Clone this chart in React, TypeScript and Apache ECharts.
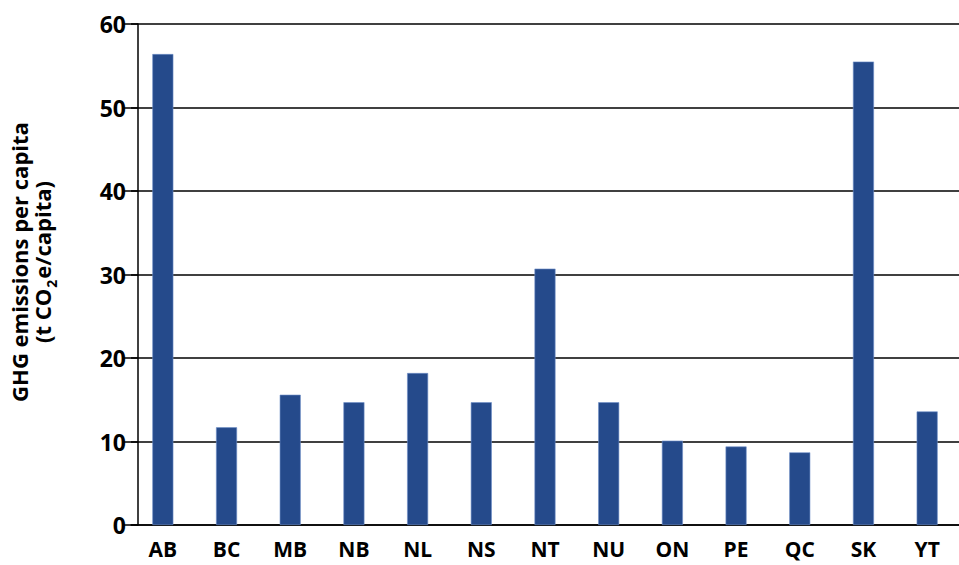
import React, { useEffect, useRef } from "react";
import * as echarts from "echarts";

const categories = ["AB", "BC", "MB", "NB", "NL", "NS", "NT", "NU", "ON", "PE", "QC", "SK", "YT"];
const emissions = [56.4, 11.7, 15.6, 14.7, 18.2, 14.7, 30.7, 14.7, 10.1, 9.4, 8.7, 55.5, 13.6];
const yTicks = { min: 0, max: 60, interval: 10 };
const titleLine1 = "GHG emissions per capita";

export default function App() {
  const ref = useRef<HTMLDivElement>(null);
  useEffect(() => {
    if (!ref.current) return;
    const chart = echarts.init(ref.current, null, { renderer: "svg" });
    const font = "'Open Sans', 'Noto Sans', sans-serif";
    chart.setOption({
      animation: false,
      backgroundColor: "#ffffff",
      grid: { left: 131, top: 24, width: 835, height: 501, containLabel: false },
      xAxis: {
        type: "category",
        data: categories,
        axisLine: { show: true, lineStyle: { color: "#000", width: 1.5 } },
        axisTick: { show: false },
        axisLabel: { color: "#000", fontFamily: font, fontWeight: "bold", fontSize: 21, margin: 13 },
      },
      yAxis: {
        type: "value",
        min: yTicks.min,
        max: yTicks.max,
        interval: yTicks.interval,
        offset: -7,
        axisLine: { show: true, lineStyle: { color: "#000", width: 1.5 } },
        axisTick: { show: true, inside: false, length: 15, lineStyle: { color: "#000", width: 1.5 } },
        axisLabel: { color: "#000", fontFamily: font, fontWeight: "bold", fontSize: 23, margin: 12 },
        splitLine: { show: true, lineStyle: { color: "#000", width: 1.5 } },
      },
      graphic: [
        {
          type: "text",
          x: 33,
          y: 262,
          rotation: Math.PI / 2,
          style: {
            text: "{n|" + titleLine1 + "}\n{n|(t CO}{s|2}{n|e/capita)}",
            fill: "#000",
            font: `bold 22px ${font}`,
            align: "center",
            verticalAlign: "middle",
            lineHeight: 23,
            rich: {
              n: { fontFamily: font, fontWeight: "bold", fontSize: 22, lineHeight: 23, verticalAlign: "top", fill: "#000" },
              s: { fontFamily: font, fontWeight: "bold", fontSize: 14, lineHeight: 28, verticalAlign: "bottom", padding: [0, 1, 0, 1], fill: "#000" },
            },
          },
        },
      ],
      series: [
        {
          type: "bar",
          data: emissions,
          barWidth: 21,
          itemStyle: { color: "#254A8B", borderColor: "#6f8fc8", borderWidth: 0.6 },
        },
      ],
    });
    return () => chart.dispose();
  }, []);
  return <div ref={ref} style={{ width: 959, height: 565, position: "absolute", left: 0, top: 0 }} />;
}
